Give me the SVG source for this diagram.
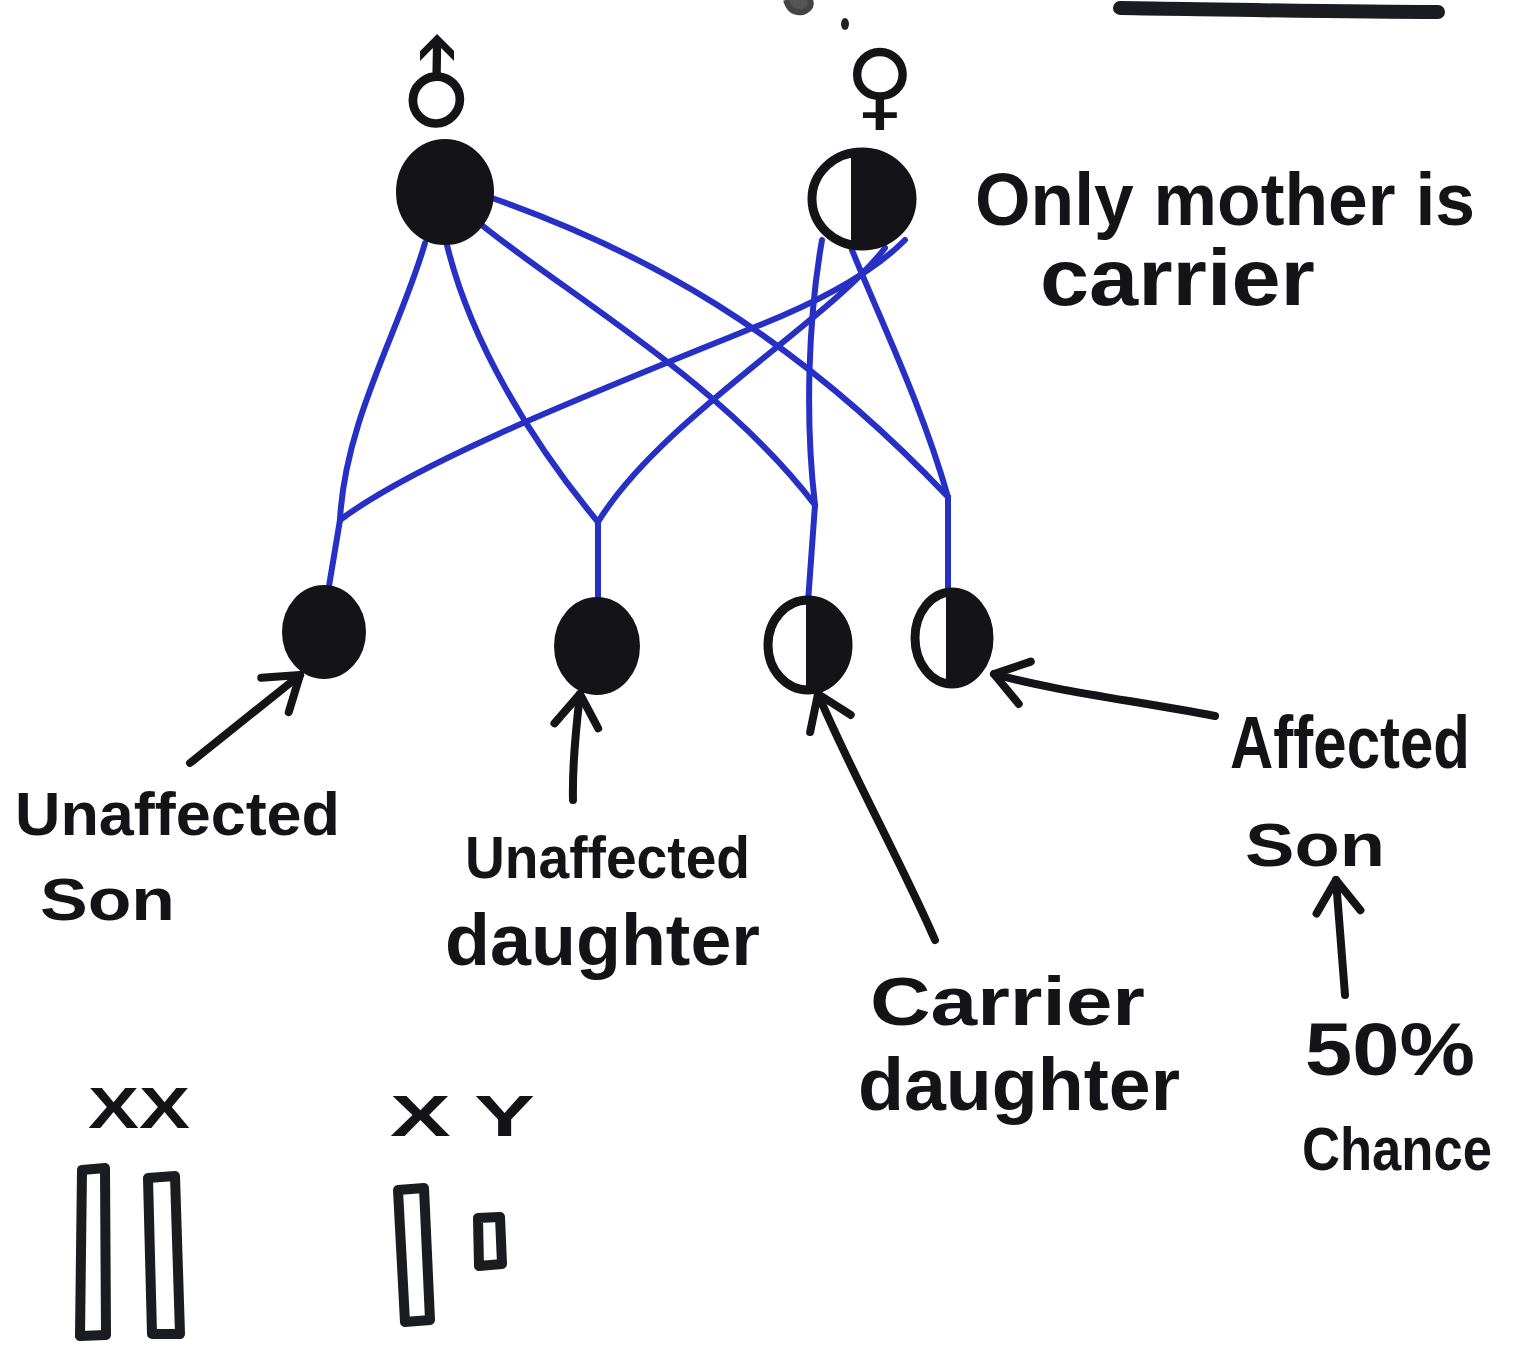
<svg xmlns="http://www.w3.org/2000/svg" width="1529" height="1366" viewBox="0 0 1529 1366">
<style>
.lbl{font-family:"Liberation Sans","DejaVu Sans",sans-serif;font-weight:bold;fill:#141418}
.sym{font-family:"DejaVu Sans",sans-serif;font-weight:bold;fill:#141418}
.blue{fill:none;stroke:#2630c4;stroke-width:6;stroke-linecap:round;stroke-linejoin:round}
.ink{fill:none;stroke:#141418;stroke-width:8;stroke-linecap:round;stroke-linejoin:round}
.full{fill:#141418;stroke:#141418;stroke-width:6}
.half{fill:#fff;stroke:#141418;stroke-width:9}
.dark{fill:#141418}
.chrom{fill:none;stroke:#1b1c22;stroke-width:10;stroke-linejoin:round}
</style>
<defs>
<marker id="arr" markerUnits="userSpaceOnUse" markerWidth="60" markerHeight="60" viewBox="-45 -30 50 60" refX="0" refY="0" orient="auto">
<path d="M -32 -22 L 0 0 L -32 22" fill="none" stroke="#141418" stroke-width="8" stroke-linecap="round" stroke-linejoin="round"/>
</marker>
<clipPath id="cm"><rect x="851" y="100" width="100" height="200"/></clipPath>
<clipPath id="c3"><rect x="806" y="560" width="100" height="160"/></clipPath>
<clipPath id="c4"><rect x="946" y="560" width="100" height="160"/></clipPath>
</defs>
<rect width="1529" height="1366" fill="#ffffff"/>

<!-- cut-off strokes at the top edge -->
<g id="top-fragments">
<path d="M 786 0 Q 790 14 803 12 Q 813 8 810 0" fill="#555" stroke="#444" stroke-width="6"/>
<ellipse cx="845" cy="24" rx="4" ry="6" fill="#222"/>
<path d="M 1120 8 C 1250 10 1350 12 1438 12" fill="none" stroke="#1b1c22" stroke-width="14" stroke-linecap="round"/>
</g>

<g id="connectors">
<!-- father to children -->
<path class="blue" d="M 425 243 C 400 330 345 420 340 520"/>
<path class="blue" d="M 447 245 C 470 340 530 440 598 522"/>
<path class="blue" d="M 478 222 C 560 290 720 380 815 505"/>
<path class="blue" d="M 492 198 C 640 250 790 330 948 497"/>
<!-- mother to children -->
<path class="blue" d="M 905 240 Q 860 285 760 325 C 600 390 420 460 340 520"/>
<path class="blue" d="M 885 248 C 830 320 660 420 598 522"/>
<path class="blue" d="M 822 240 C 808 320 805 420 815 505"/>
<path class="blue" d="M 850 245 C 880 320 920 400 948 497"/>
<!-- drops -->
<path class="blue" d="M 340 520 L 328 592"/>
<path class="blue" d="M 598 522 L 598 602"/>
<path class="blue" d="M 815 505 L 808 602"/>
<path class="blue" d="M 948 497 L 948 592"/>
<!-- label arrows -->
<path class="ink" d="M 190 763 L 300 675" marker-end="url(#arr)"/>
<path class="ink" d="M 573 800 C 572 760 577 720 580 694" marker-end="url(#arr)"/>
<path class="ink" d="M 935 940 C 900 860 850 770 818 694" marker-end="url(#arr)"/>
<path class="ink" d="M 1215 716 C 1130 700 1050 690 994 674" marker-end="url(#arr)"/>
<path class="ink" d="M 1345 995 L 1336 880" marker-end="url(#arr)"/>
</g>

<g id="father">
<text class="sym" x="437" y="122" font-size="100" text-anchor="middle" transform="rotate(-45 437 88)">♂</text>
<ellipse class="full" cx="445" cy="192" rx="46" ry="50"/>
</g>

<g id="mother">
<text class="sym" x="880" y="118" font-size="96" text-anchor="middle">♀</text>
<ellipse class="half" cx="862" cy="199" rx="50" ry="47"/>
<ellipse class="dark" cx="862" cy="199" rx="54" ry="51" clip-path="url(#cm)"/>
</g>

<g id="unaffected-son">
<ellipse class="full" cx="324" cy="632" rx="39" ry="44"/>
</g>

<g id="unaffected-daughter">
<ellipse class="full" cx="597" cy="646" rx="40" ry="46"/>
</g>

<g id="carrier-daughter">
<ellipse class="half" cx="808" cy="645" rx="40" ry="45"/>
<ellipse class="dark" cx="808" cy="645" rx="44" ry="49" clip-path="url(#c3)"/>
</g>

<g id="affected-son">
<ellipse class="half" cx="952" cy="638" rx="37" ry="46"/>
<ellipse class="dark" cx="952" cy="638" rx="41" ry="50" clip-path="url(#c4)"/>
</g>

<g id="label-mother">
<text class="lbl" x="975" y="225" font-size="74" textLength="500" lengthAdjust="spacingAndGlyphs">Only mother is</text>
<text class="lbl" x="1040" y="305" font-size="80" textLength="275" lengthAdjust="spacingAndGlyphs">carrier</text>
</g>

<g id="label-unaffected-son">
<text class="lbl" x="15" y="835" font-size="62" textLength="325" lengthAdjust="spacingAndGlyphs">Unaffected</text>
<text class="lbl" x="40" y="920" font-size="60" textLength="135" lengthAdjust="spacingAndGlyphs">Son</text>
</g>

<g id="label-unaffected-daughter">
<text class="lbl" x="465" y="878" font-size="60" textLength="285" lengthAdjust="spacingAndGlyphs">Unaffected</text>
<text class="lbl" x="445" y="965" font-size="72" textLength="315" lengthAdjust="spacingAndGlyphs">daughter</text>
</g>

<g id="label-carrier-daughter">
<text class="lbl" x="870" y="1025" font-size="68" textLength="275" lengthAdjust="spacingAndGlyphs">Carrier</text>
<text class="lbl" x="858" y="1110" font-size="74" textLength="322" lengthAdjust="spacingAndGlyphs">daughter</text>
</g>

<g id="label-affected-son">
<text class="lbl" x="1230" y="768" font-size="74" textLength="240" lengthAdjust="spacingAndGlyphs">Affected</text>
<text class="lbl" x="1245" y="866" font-size="62" textLength="140" lengthAdjust="spacingAndGlyphs">Son</text>
</g>

<g id="label-chance">
<text class="lbl" x="1305" y="1075" font-size="74" textLength="170" lengthAdjust="spacingAndGlyphs">50%</text>
<text class="lbl" x="1302" y="1170" font-size="62" textLength="190" lengthAdjust="spacingAndGlyphs">Chance</text>
</g>

<g id="chromosomes-xx">
<text class="lbl" x="88" y="1128" font-size="58" textLength="102" lengthAdjust="spacingAndGlyphs">XX</text>
<path class="chrom" d="M 82 1170 L 105 1168 L 106 1335 L 80 1336 Z"/>
<path class="chrom" d="M 148 1178 L 175 1176 L 180 1334 L 152 1334 Z"/>
</g>

<g id="chromosomes-xy">
<text class="lbl" x="390" y="1136" font-size="58" textLength="145" lengthAdjust="spacingAndGlyphs">X Y</text>
<path class="chrom" d="M 398 1190 L 424 1188 L 430 1320 L 405 1322 Z"/>
<path class="chrom" d="M 478 1218 L 500 1217 L 502 1264 L 479 1266 Z"/>
</g>
</svg>
